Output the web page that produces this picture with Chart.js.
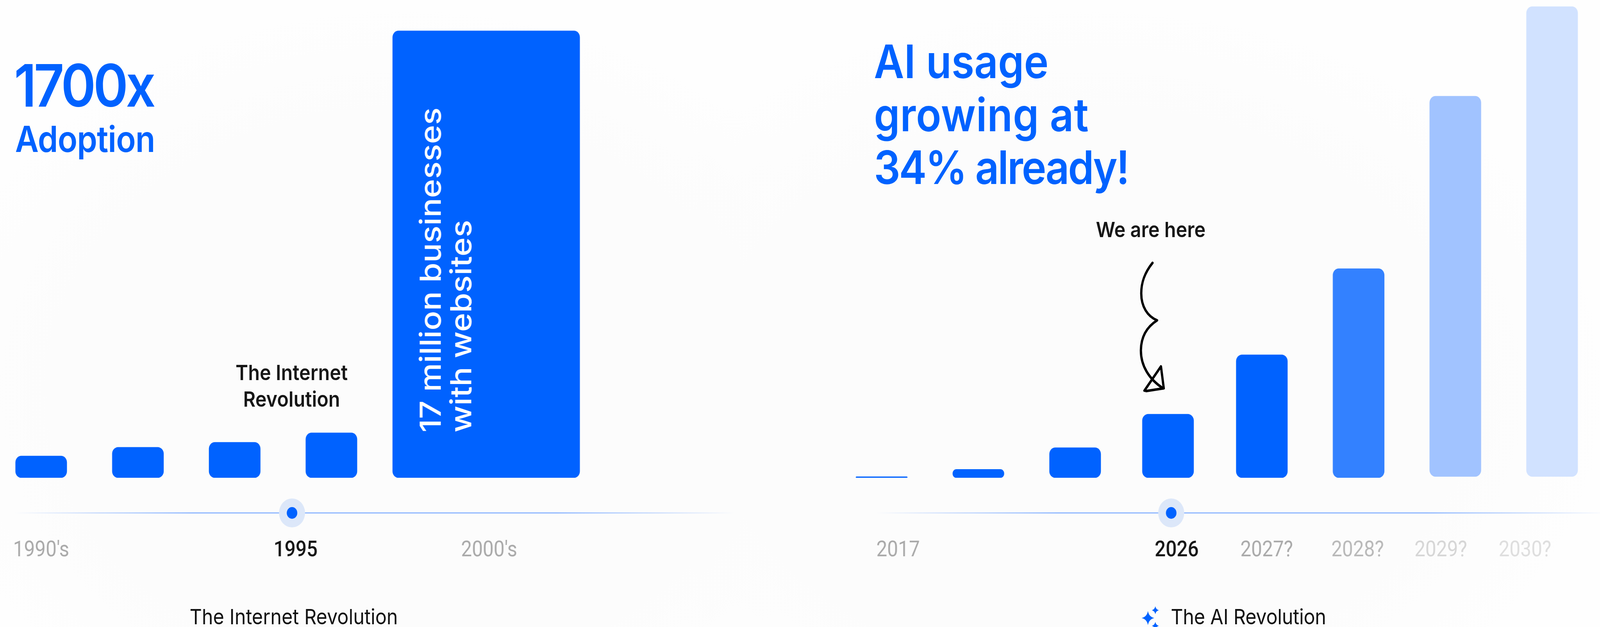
<!DOCTYPE html>
<html>
<head>
<meta charset="utf-8">
<title>Internet vs AI adoption</title>
<script src="https://cdn.jsdelivr.net/npm/chart.js@4"></script>
<style>
html, body { margin: 0; padding: 0; height: 1605px; overflow: hidden; background: #fff; }
#stage { position: absolute; left: 0; top: 0; width: 4548px; height: 1605px; overflow: hidden;
    transform-origin: 0 0; font-family: "Inter", sans-serif; color: #161616; }
#bg { position: absolute; inset: 0;
    background:
        radial-gradient(ellipse 1400px 1000px at 1150px 1000px, #fcfcfc 70%, rgba(252,252,252,0) 100%),
        radial-gradient(ellipse 1500px 1000px at 3100px 1000px, #fcfcfc 70%, rgba(252,252,252,0) 100%),
        #fefefe; }
canvas { position: absolute; top: 0; }
#left { left: 0; }
#right { left: 2274px; }
.t { position: absolute; white-space: nowrap; }
.blue { color: #0062ff; font-weight: 600; }
.bold { font-weight: 600; font-size: 54px; line-height: 68px; text-align: center; }
.cap { font-size: 54px; line-height: 64px; font-weight: 400; color: #111; }
#rot { left: 1180px; top: 1107px; color: #fff; font-size: 83px; line-height: 87px; font-weight: 500;
    transform-origin: 0 0; transform: rotate(-90deg); }
svg { position: absolute; left: 0; top: 0; }
</style>
</head>
<body>
<div id="stage">
<div id="bg"></div>
<canvas id="left" width="2274" height="1605"></canvas>
<canvas id="right" width="2274" height="1605"></canvas>

<div class="t blue" style="left:40px;top:128px;font-size:150px;line-height:182px;letter-spacing:-7px;">1700x</div>
<div class="t blue" style="left:43px;top:296px;font-size:92px;line-height:120px;letter-spacing:-1px;">Adoption</div>
<div class="t bold" style="left:629px;top:920px;width:400px;">The Internet<br>Revolution</div>
<div class="t" id="rot">17 million businesses<br>with websites</div>
<div class="t cap" style="left:539px;top:1547px;">The Internet Revolution</div>

<div class="t blue" style="left:2484px;top:90px;font-size:118px;line-height:135.5px;">
    <span style="letter-spacing:0px;">AI usage</span><br>
    <span style="letter-spacing:0.8px;">growing at</span><br>
    <span style="letter-spacing:-3.5px;">34% already!</span>
</div>
<div class="t bold" style="left:3115px;top:554px;">We are here</div>
<div class="t cap" style="left:3328px;top:1547px;letter-spacing:-0.3px;">The AI Revolution</div>

<svg width="4548" height="1605" viewBox="0 0 4548 1605">
    <g fill="none" stroke="#000" stroke-width="6.5" stroke-linecap="round" stroke-linejoin="round">
        <path d="M3276 673 C3252 700 3244 725 3244 751 C3244 785 3262 810 3289 820 C3258 838 3243 865 3243 898 C3243 935 3265 970 3306 994"/>
        <path d="M3253 1000 L3300 938 L3308 994 L3258 1001"/>
    </g>
    <g fill="#0062ff">
        <path d="M3263 1564 Q3266 1579 3281 1582 Q3266 1585 3263 1600 Q3260 1585 3245 1582 Q3260 1579 3263 1564Z"/>
        <path d="M3284 1552 Q3286 1560 3294 1562 Q3286 1564 3284 1572 Q3282 1564 3274 1562 Q3282 1560 3284 1552Z"/>
        <path d="M3284 1592 Q3286 1600 3294 1602 Q3286 1604 3284 1612 Q3282 1604 3274 1602 Q3282 1600 3284 1592Z"/>
    </g>
</svg>
</div>

<script>
// the browser window can come out narrower than the 4548 wide layout, squeeze to fit
if (window.innerWidth < 4548) {
    document.getElementById('stage').style.transform = 'scaleX(' + (window.innerWidth / 4548) + ')';
}

// left chart, million businesses
var webSlots = [0, 1, 2, 3];
var webValues = [0.83, 1.16, 1.35, 1.71];
var bigSlot = [4.6];
var bigValue = [17];
var webTickSlots = [0, 2.63, 4.63];
var webTickLabels = ["1990's", '1995', "2000's"];
var webTickColors = ['#aaaaaa', '#161616', '#aaaaaa'];

// right chart, usage with 2030 = 100
var aiSlots = [0, 1, 2, 2.96, 3.93, 4.93];
var aiValues = [0.25, 1.8, 6.4, 13.5, 26.1, 44.4];
var aiColors = ['#0062ff', '#0062ff', '#0062ff', '#0062ff', '#0062ff', '#3381ff'];
var guessSlots = [5.93, 6.93];
var guessValues = [81, 100];
var guessColors = ['#a1c3ff', '#d1e2ff'];
var aiTickSlots = [0.17, 3.05, 3.98, 4.92, 5.78, 6.65];
var aiTickLabels = ['2017', '2026', '2027?', '2028?', '2029?', '2030?'];
var aiTickColors = ['#aaaaaa', '#161616', '#aaaaaa', '#b9b9b9', '#d6d6d6', '#dedede'];

function points(slots, values) {
    return slots.map(function (slot, i) {
        return { x: slot, y: values[i] };
    });
}

// the line under the bars with the "now" marker on it
function timeline(markerSlot, from, to) {
    return {
        id: 'timeline',
        beforeDatasetsDraw: function (chart) {
            var ctx = chart.ctx;
            var y = 1313;
            var x = chart.scales.x.getPixelForValue(markerSlot);
            var grad = ctx.createLinearGradient(from, 0, to, 0);
            grad.addColorStop(0, 'rgba(141,182,255,0)');
            grad.addColorStop(0.25, 'rgba(141,182,255,1)');
            grad.addColorStop(0.75, 'rgba(141,182,255,1)');
            grad.addColorStop(1, 'rgba(141,182,255,0)');
            ctx.save();
            ctx.fillStyle = grad;
            ctx.fillRect(from, y - 1.5, to - from, 3);
            ctx.fillStyle = '#dce7f9';
            ctx.beginPath();
            ctx.arc(x, y, 37, 0, Math.PI * 2);
            ctx.fill();
            ctx.fillStyle = '#0062ff';
            ctx.beginPath();
            ctx.arc(x, y, 15, 0, Math.PI * 2);
            ctx.fill();
            ctx.restore();
        }
    };
}

function makeChart(id, datasets, opts) {
    return new Chart(document.getElementById(id), {
        type: 'bar',
        data: { datasets: datasets },
        plugins: [timeline(opts.marker, opts.lineFrom, opts.lineTo)],
        options: {
            responsive: false,
            animation: false,
            devicePixelRatio: 1,
            layout: { padding: 0 },
            plugins: { legend: { display: false }, tooltip: { enabled: false } },
            scales: {
                x: {
                    type: 'linear',
                    offset: false,
                    stacked: true,
                    min: opts.min,
                    max: opts.min + 8.269,
                    grid: { display: false, drawTicks: false },
                    border: { display: false },
                    afterBuildTicks: function (axis) {
                        axis.ticks = opts.tickSlots.map(function (v) { return { value: v }; });
                    },
                    afterFit: function (axis) {
                        // big tick padding would otherwise eat into the plot width
                        axis.height = 382;
                        axis.paddingLeft = 0;
                        axis.paddingRight = 0;
                    },
                    ticks: {
                        autoSkip: false,
                        maxRotation: 0,
                        padding: 154,
                        color: function (c) { return opts.tickColors[c.index]; },
                        font: function (c) {
                            return {
                                family: 'Roboto',
                                size: 55,
                                weight: opts.tickColors[c.index] === '#161616' ? '500' : '400'
                            };
                        },
                        callback: function (v, i) { return opts.tickLabels[i]; }
                    }
                },
                y: { display: false, min: 0, max: opts.yMax }
            }
        }
    });
}

function bars(data, color, thickness, base) {
    return {
        data: data,
        backgroundColor: color,
        barThickness: thickness,
        borderRadius: 17,
        borderSkipped: false,
        base: base
    };
}

makeChart('left', [
    bars(points(webSlots, webValues), '#0062ff', 146, 0),
    bars(points(bigSlot, bigValue), '#0062ff', 532, 0)
], {
    min: -117 / 275, yMax: 18.17, marker: 2.593, lineFrom: 40, lineTo: 2090,
    tickSlots: webTickSlots, tickLabels: webTickLabels, tickColors: webTickColors
});

makeChart('right', [
    bars(points(aiSlots, aiValues), aiColors, 146, 0),
    bars(points(guessSlots, guessValues), guessColors, 146, 0.25)
], {
    min: -232 / 275, yMax: 101.4, marker: 2.993, lineFrom: 216, lineTo: 2300,
    tickSlots: aiTickSlots, tickLabels: aiTickLabels, tickColors: aiTickColors
});
</script>
</body>
</html>
